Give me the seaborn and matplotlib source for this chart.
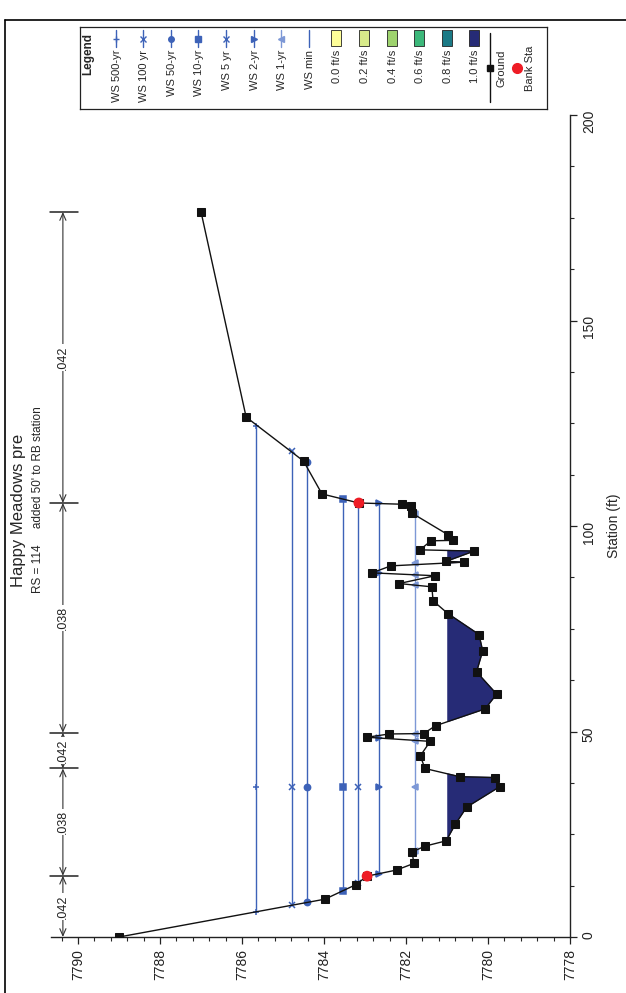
import numpy as np
import pandas as pd
import matplotlib
matplotlib.use("Agg")
import matplotlib.pyplot as plt
import seaborn as sns
from matplotlib.lines import Line2D
from matplotlib.patches import Rectangle

# -----------------------------------------------------
# Data (station ft, elevation ft)
# -----------------------------------------------------
ground_sta = [0.0, 9.2, 12.7, 14.8, 16.3, 17.9, 20.7, 22.1, 23.4, 27.4, 31.6, 36.6,
              38.8, 39.0, 41.0, 44.1, 47.6, 48.6, 49.4, 49.5, 51.4, 55.5, 59.1, 64.5,
              69.6, 73.6, 78.7, 81.8, 85.2, 86.0, 87.9, 88.6, 90.3, 91.2, 91.4, 93.9,
              94.2, 96.4, 96.5, 97.9, 103.1, 104.9, 105.3, 105.6, 107.8, 115.8, 126.5, 176.4]
ground_elev = [7789.0, 7783.98, 7783.23, 7782.95, 7782.23, 7781.81, 7781.85, 7781.54,
               7781.02, 7780.80, 7780.52, 7779.71, 7779.84, 7780.69, 7781.54, 7781.65,
               7781.41, 7782.95, 7782.41, 7781.57, 7781.28, 7780.07, 7779.79, 7780.28,
               7780.13, 7780.22, 7780.98, 7781.34, 7781.37, 7782.17, 7781.29, 7782.83,
               7782.37, 7780.59, 7781.02, 7780.34, 7781.66, 7781.39, 7780.85, 7780.98,
               7781.85, 7781.88, 7782.10, 7783.15, 7784.05, 7784.5, 7785.9, 7787.0]

bank_sta = [14.8, 105.6]
bank_elev = [7782.95, 7783.15]

ws_names = ["WS 500-yr", "WS 100 yr", "WS 50-yr", "WS 10-yr", "WS 5 yr", "WS 2-yr", "WS 1-yr"]
ws_elev = [7785.66, 7784.78, 7784.41, 7783.54, 7783.16, 7782.65, 7781.78]
ws_marks = [
    [6.1, 36.6, 124.3],
    [7.9, 36.6, 118.3],
    [8.5, 36.6, 115.5],
    [11.2, 36.6, 106.6],
    [13.2, 36.6, 105.5],
    [15.4, 36.6, 48.5, 88.6, 105.5],
    [21.0, 36.6, 47.7, 49.5, 85.6, 88.0, 91.1, 103.0],
]
ws_markers = ["+", "x", "o", "s", "x", ">", "<"]
ws_colors = ["#3d62b8", "#3d62b8", "#3d62b8", "#3d62b8", "#3d62b8", "#3d62b8", "#7d98d6"]
ws_min = 7780.98

n_bounds = [0, 14.9, 41.0, 49.7, 105.6, 176.4]
n_values = [".042", ".038", ".042", ".038", ".042"]

vel_labels = ["0.0 ft/s", "0.2 ft/s", "0.4 ft/s", "0.6 ft/s", "0.8 ft/s", "1.0 ft/s"]
vel_colors = ["#ffff99", "#d8eb8a", "#9ed36e", "#3cb87a", "#1b7a86", "#262b76"]

elev_ticks = np.arange(7778, 7791, 2)
sta_ticks = np.arange(0, 201, 50)

# -----------------------------------------------------
# Figure (chart is drawn turned on its side: elevation across, station up)
# -----------------------------------------------------
sns.set_style("ticks")
plt.rcParams["font.family"] = ["Liberation Sans", "DejaVu Sans"]

W, H = 626, 993
fig = plt.figure(figsize=(W / 100, H / 100), dpi=100)
ax = fig.add_axes([51 / W, 56 / H, (570 - 51) / W, (937 - 115) / H])

navy = vel_colors[-1]
g = pd.DataFrame({"sta": ground_sta, "elev": ground_elev})

# velocity fill under the minimum water surface
wet = (g["elev"] < ws_min).to_numpy()
ax.fill_betweenx(g["sta"], g["elev"], ws_min, where=wet, interpolate=True,
                 facecolor=navy, edgecolor=navy, lw=0.8, zorder=1)

# water surfaces
for name, e, marks, mk, col in zip(ws_names, ws_elev, ws_marks, ws_markers, ws_colors):
    ax.plot([e] * len(marks), marks, color=col, lw=1.0, marker=mk, markersize=4.5,
            markeredgewidth=1.1, zorder=2)

# ground
sns.lineplot(data=g, x="elev", y="sta", sort=False, estimator=None, ax=ax,
             color="#111111", lw=1.0, marker="s", markersize=5.5,
             markeredgecolor="#111111", zorder=3)

# bank stations
sns.scatterplot(x=bank_elev, y=bank_sta, ax=ax, color="#ee1c25", s=60,
                edgecolor="none", zorder=4)

# Manning's n dimension lines
n_line = 7790.37
for i, lab in enumerate(n_values):
    a, b = n_bounds[i], n_bounds[i + 1]
    ax.annotate("", xy=(n_line, a), xytext=(n_line, b), annotation_clip=False,
                arrowprops=dict(arrowstyle="<->,head_length=0.5,head_width=0.22",
                                color="#333333", lw=0.8, shrinkA=0, shrinkB=0))
    ax.text(n_line, (a + b) / 2, lab, rotation=90, ha="center", va="center",
            fontsize=9, color="#222222", zorder=5,
            bbox=dict(fc="white", ec="none", pad=0.8))
for s in n_bounds[1:]:
    ax.plot([7790.68, 7790.0], [s, s], color="#222222", lw=1.1, clip_on=False)

# axes
ax.set_xlim(7790.66, 7778)
ax.set_ylim(0, 200)
ax.set_xticks(elev_ticks)
ax.set_xticks(np.arange(7778, 7790.7, 0.4), minor=True)
ax.set_yticks(sta_ticks)
ax.set_yticks(np.arange(0, 201, 12.5), minor=True)
ax.yaxis.tick_right()
ax.yaxis.set_label_position("right")
ax.set_ylabel("Station (ft)", fontsize=10, rotation=90, labelpad=8)
ax.set_xlabel("")
ax.tick_params(axis="both", which="major", direction="out", length=5, width=0.9,
               labelsize=10, labelrotation=90, colors="#222222")
ax.tick_params(axis="both", which="minor", direction="out", length=3, width=0.8)
ax.xaxis.set_major_formatter(matplotlib.ticker.FormatStrFormatter("%d"))
for side in ["left", "top"]:
    ax.spines[side].set_visible(False)
for side in ["bottom", "right"]:
    ax.spines[side].set_linewidth(1.0)
    ax.spines[side].set_color("#222222")

# titles
fig.text(19 / W, 1 - 510 / H, "Happy Meadows pre", rotation=90, ha="center",
         va="center", fontsize=12)
fig.text(38 / W, 1 - 500 / H, "RS = 114     added 50' to RB station", rotation=90,
         ha="center", va="center", fontsize=8.5)

# page frame
fig.add_artist(Line2D([5 / W, 5 / W], [0, 1 - 20 / H], color="black", lw=1.2))
fig.add_artist(Line2D([5 / W, 1], [1 - 20 / H, 1 - 20 / H], color="black", lw=1.2))

# -----------------------------------------------------
# Legend (laid out by hand, rotated with the chart)
# -----------------------------------------------------
lx0, lx1, ly0, ly1 = 80, 547, 27, 109
lax = fig.add_axes([lx0 / W, 1 - ly1 / H, (lx1 - lx0) / W, (ly1 - ly0) / H])
lax.set_xlim(lx0, lx1)
lax.set_ylim(ly1, ly0)
lax.set_xticks([])
lax.set_yticks([])
for sp in lax.spines.values():
    sp.set_linewidth(0.9)
    sp.set_color("#222222")

lax.text(88, 33, "Legend", rotation=90, ha="center", va="top", fontsize=8.5,
         fontweight="bold")
step = 27.6
col = 88 + step
for name, mk, c in zip(ws_names, ws_markers, ws_colors):
    lax.plot([col, col], [30, 47], color=c, lw=1.0)
    lax.plot([col], [38.5], color=c, marker=mk, markersize=4, markeredgewidth=1.0)
    lax.text(col + 1, 50, name, rotation=90, ha="center", va="top", fontsize=8)
    col += step
lax.plot([col, col], [30, 47], color="#3d62b8", lw=1.0)
lax.text(col + 1, 50, "WS min", rotation=90, ha="center", va="top", fontsize=8)
col += step
for lab, c in zip(vel_labels, vel_colors):
    lax.add_patch(Rectangle((col - 5, 30), 10, 16, facecolor=c, edgecolor="#222222",
                            lw=0.6))
    lax.text(col + 1, 50, lab, rotation=90, ha="center", va="top", fontsize=8)
    col += step
col -= step
lax.plot([col + 16, col + 16], [33, 102], color="#111111", lw=1.0)
lax.plot([col + 16], [68], color="#111111", marker="s", markersize=5)
lax.text(col + 27, 68, "Ground", rotation=90, ha="center", va="center", fontsize=8)
lax.plot([col + 43], [68], color="#ee1c25", marker="o", markersize=7)
lax.text(col + 56, 68, "Bank Sta", rotation=90, ha="center", va="center", fontsize=8)

fig.savefig("out.png", dpi=100)
